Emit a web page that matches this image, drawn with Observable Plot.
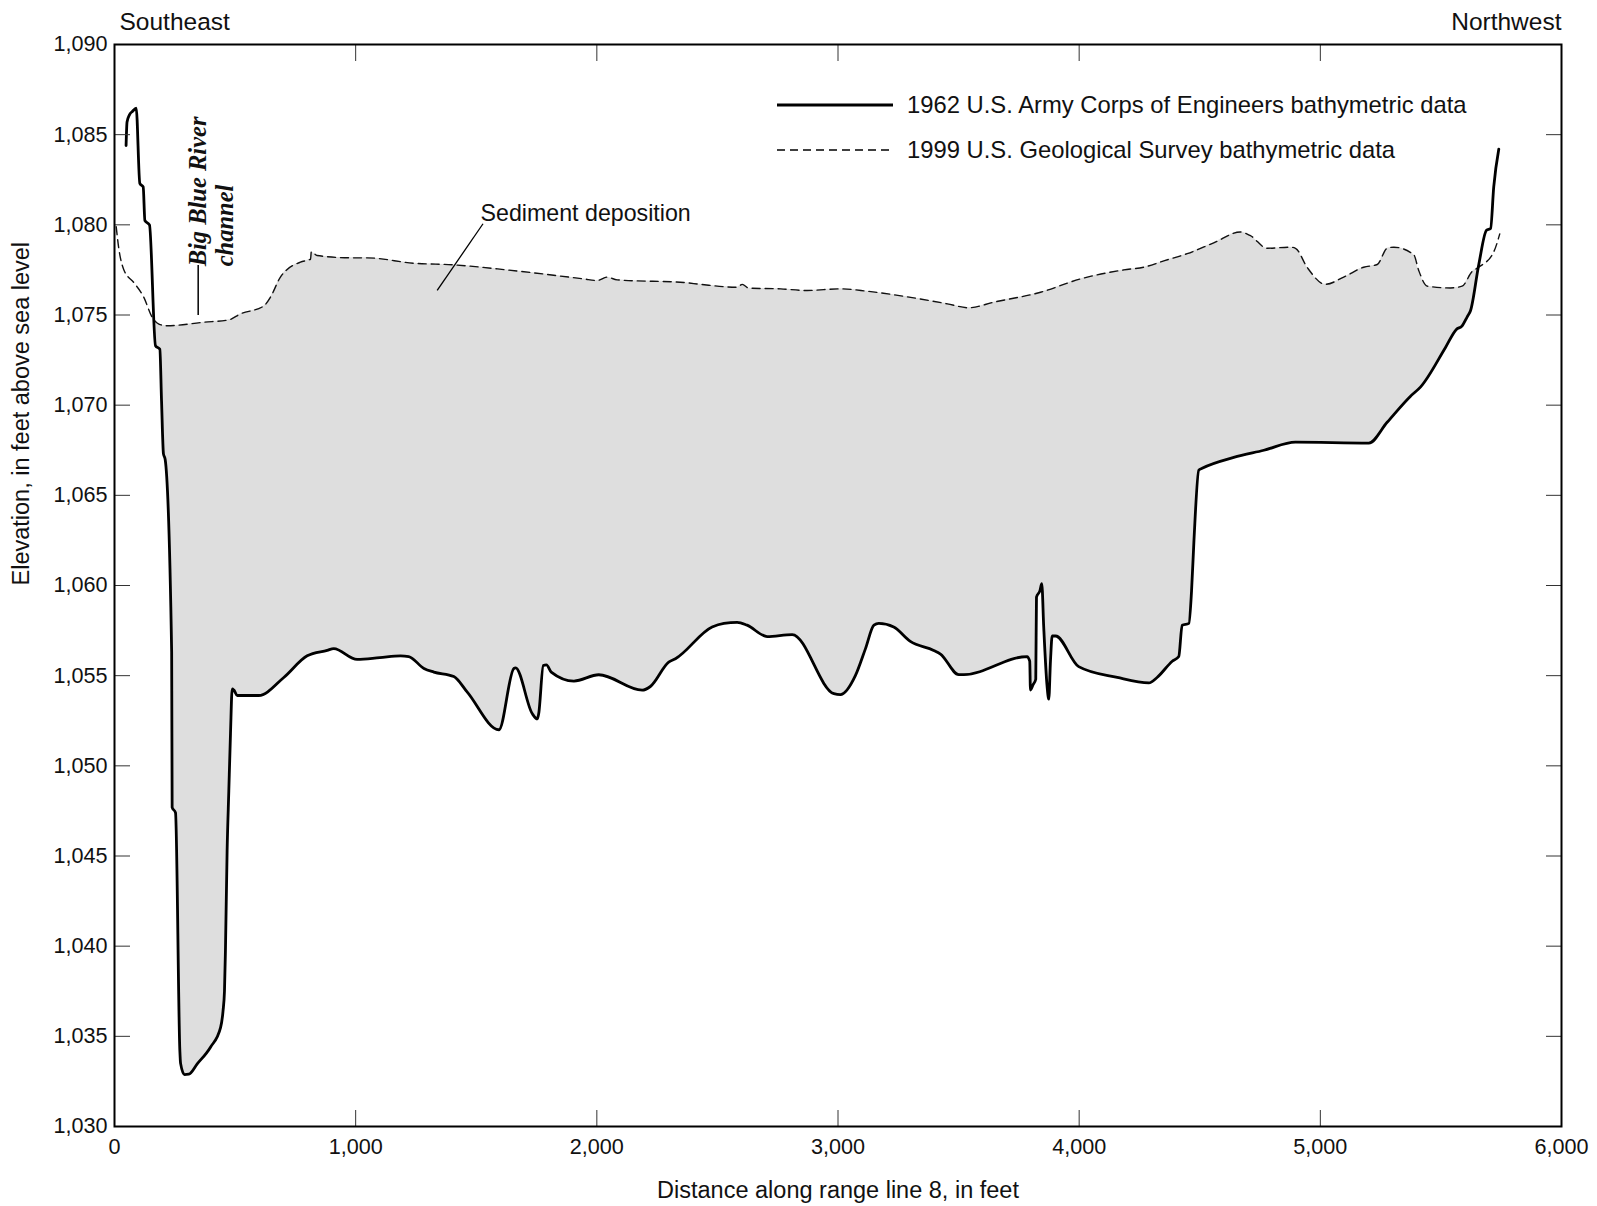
<!DOCTYPE html>
<html>
<head>
<meta charset="utf-8">
<script src="https://cdn.jsdelivr.net/npm/d3@7"></script>
<script src="https://cdn.jsdelivr.net/npm/@observablehq/plot@0.6"></script>
<style>
  html, body { margin: 0; padding: 0; background: #fff; }
  #wrap { position: relative; width: 1597px; height: 1206px; font-family: "Liberation Sans", Arial, sans-serif; }
  #legend { position: absolute; left: 770px; top: 85px; }
</style>
</head>
<body>
<div id="wrap">
  <div id="chart"></div>
  <svg id="legend" width="720" height="90"></svg>
</div>
<script>
// ---- Data ----
// 1962 U.S. Army Corps of Engineers profile (distance ft, elevation ft)
const x1962 = [48, 52, 62, 75, 90, 105, 119, 126, 145, 170, 188, 195, 203, 210, 237, 239, 253, 271, 274, 290, 308, 343, 398, 440, 450, 456, 460, 467, 474, 481, 488, 495, 509, 598, 702, 799, 882, 909, 1006, 1100, 1186, 1220, 1283, 1324, 1407, 1462, 1594, 1656, 1663, 1732, 1753, 1759, 1778, 1791, 1811, 1905, 2008, 2188, 2222, 2298, 2326, 2478, 2527, 2582, 2623, 2706, 2810, 2983, 3010, 3072, 3114, 3149, 3169, 3231, 3300, 3397, 3425, 3501, 3522, 3784, 3795, 3798, 3809, 3820, 3823, 3837, 3845, 3853, 3867, 3874, 3881, 3888, 3902, 3998, 4158, 4289, 4323, 4386, 4413, 4427, 4455, 4466, 4476, 4496, 4510, 4641, 4766, 4897, 5201, 5277, 5374, 5415, 5519, 5564, 5588, 5609, 5623, 5657, 5689, 5706, 5719, 5740];
const y1962 = [1084.4, 1085.7, 1086.1, 1086.3, 1086.47, 1082.3, 1082.1, 1080.24, 1080.0, 1073.3, 1073.1, 1070.26, 1067.3, 1067.0, 1056.3, 1047.7, 1047.4, 1034.2, 1033.5, 1032.88, 1032.9, 1033.47, 1034.4, 1035.5, 1036.4, 1037.5, 1039.76, 1045.3, 1048.6, 1051.8, 1054.27, 1054.2, 1053.9, 1053.9, 1054.9, 1056.1, 1056.4, 1056.5, 1055.9, 1056.0, 1056.1, 1056.06, 1055.4, 1055.2, 1054.95, 1054.1, 1052.0, 1055.4, 1055.43, 1052.9, 1052.6, 1052.9, 1055.56, 1055.6, 1055.2, 1054.7, 1055.05, 1054.2, 1054.4, 1055.75, 1055.94, 1057.7, 1057.9, 1057.96, 1057.8, 1057.17, 1057.28, 1054.0, 1053.95, 1055.0, 1056.5, 1057.8, 1057.9, 1057.7, 1056.9, 1056.4, 1056.2, 1055.06, 1055.06, 1056.06, 1055.8, 1054.2, 1054.5, 1054.8, 1059.35, 1059.7, 1060.1, 1057.7, 1054.4, 1053.7, 1055.8, 1057.2, 1057.2, 1055.5, 1054.9, 1054.6, 1054.9, 1055.8, 1056.06, 1057.8, 1057.9, 1059.7, 1062.5, 1066.4, 1066.5, 1067.1, 1067.5, 1067.95, 1067.9, 1069.05, 1070.5, 1071.0, 1073.2, 1074.2, 1074.4, 1074.9, 1075.25, 1077.8, 1079.7, 1079.8, 1082.1, 1084.2];

// 1999 U.S. Geological Survey profile
const x1999 = [7, 18, 39, 80, 121, 156, 184, 218, 370, 474, 522, 619, 647, 688, 771, 806, 813, 816, 840, 979, 1048, 1241, 1407, 1628, 1946, 2001, 2043, 2084, 2361, 2430, 2582, 2603, 2630, 2762, 2872, 3010, 3121, 3314, 3453, 3542, 3646, 3840, 4005, 4185, 4268, 4351, 4448, 4558, 4669, 4710, 4780, 4876, 4897, 4945, 5021, 5097, 5180, 5236, 5277, 5305, 5387, 5408, 5443, 5540, 5588, 5629, 5657, 5719, 5744];
const y1999 = [1079.9, 1078.67, 1077.5, 1076.8, 1076.0, 1074.88, 1074.5, 1074.4, 1074.6, 1074.73, 1075.06, 1075.5, 1076.0, 1077.1, 1077.93, 1078.06, 1078.1, 1078.5, 1078.3, 1078.17, 1078.17, 1077.87, 1077.78, 1077.5, 1077.0, 1076.91, 1077.1, 1076.95, 1076.8, 1076.7, 1076.54, 1076.7, 1076.49, 1076.45, 1076.36, 1076.45, 1076.32, 1075.95, 1075.62, 1075.4, 1075.71, 1076.26, 1077.0, 1077.5, 1077.65, 1078.0, 1078.4, 1079.0, 1079.6, 1079.4, 1078.7, 1078.76, 1078.7, 1077.65, 1076.7, 1077.1, 1077.65, 1077.8, 1078.7, 1078.76, 1078.35, 1077.47, 1076.6, 1076.5, 1076.6, 1077.4, 1077.65, 1078.5, 1079.5];

// Axis ticks
const xTicks = [0, 1000, 2000, 3000, 4000, 5000, 6000];
const yTicks = [1030, 1035, 1040, 1045, 1050, 1055, 1060, 1065, 1070, 1075, 1080, 1085, 1090];

// Labels
const seriesLabels = ["1962 U.S. Army Corps of Engineers bathymetric data", "1999 U.S. Geological Survey bathymetric data"];
const xTitle = "Distance along range line 8, in feet";
const yTitle = "Elevation, in feet above sea level";
const leftDir = "Southeast";
const rightDir = "Northwest";
const depositionLabel = "Sediment deposition";
const channelLabel = "Big Blue River\nchannel";

// ---- Build tables ----
const s1962 = x1962.map((x, i) => ({x, y: y1962[i]}));
const s1999 = x1999.map((x, i) => ({x, y: y1999[i]}));
// Deposition fill: grey below the 1999 surface, then white below the 1962 surface
// (so grey remains only where 1999 lies above 1962). Grey limited to the span of the 1962 profile.
const x0 = x1962[0], x1 = x1962[x1962.length - 1];
const grey = s1999.filter(d => d.x >= x0 + 100 && d.x <= x1 - 20);

const font = '"Liberation Sans", Arial, sans-serif';
const curve = "monotone-x";
const yMin = 1030;

const chart = Plot.plot({
  width: 1597,
  height: 1206,
  marginLeft: 114,
  marginRight: 36,
  marginTop: 44,
  marginBottom: 80,
  style: {fontFamily: font, fontSize: "21.6px", color: "#111", background: "#fff"},
  x: {domain: [0, 6000]},
  y: {domain: [1030, 1090]},
  marks: [
    Plot.areaY(grey, {x: "x", y1: yMin, y2: "y", fill: "#dedede", curve}),
    Plot.areaY(s1962, {x: "x", y1: yMin, y2: "y", fill: "#fff", curve}),
    Plot.line(s1999, {x: "x", y: "y", stroke: "#111", strokeWidth: 1.4, strokeDasharray: "8,5", curve}),
    Plot.line(s1962, {x: "x", y: "y", stroke: "#000", strokeWidth: 2.8, strokeLinejoin: "round", curve}),
    Plot.axisX({anchor: "bottom", ticks: xTicks, tickFormat: d3.format(","), tickSize: -16, tickPadding: 28, label: null, stroke: "#333"}),
    Plot.axisX({anchor: "top", ticks: xTicks, tickFormat: () => "", tickSize: -16, tickPadding: 0, label: null, stroke: "#333"}),
    Plot.axisY({anchor: "left", ticks: yTicks, tickFormat: d3.format(","), tickSize: -16, tickPadding: 23, label: null, stroke: "#333"}),
    Plot.axisY({anchor: "right", ticks: yTicks, tickFormat: () => "", tickSize: -16, tickPadding: 0, label: null, stroke: "#333"}),
    Plot.frame({stroke: "#000", strokeWidth: 2}),
    // axis titles & direction labels
    Plot.text([xTitle], {text: d => d, frameAnchor: "bottom", dy: 64, lineAnchor: "middle", fontSize: 23.5}),
    Plot.text([yTitle], {text: d => d, frameAnchor: "left", dx: -93, rotate: -90, lineAnchor: "middle", fontSize: 23.5}),
    Plot.text([leftDir], {text: d => d, frameAnchor: "top-left", textAnchor: "start", dx: 5, dy: -22, lineAnchor: "middle", fontSize: 24.5}),
    Plot.text([rightDir], {text: d => d, frameAnchor: "top-right", textAnchor: "end", dx: 0, dy: -22, lineAnchor: "middle", fontSize: 24.5}),
    // annotations
    Plot.text([depositionLabel], {text: d => d, x: 1518, y: 1080.63, textAnchor: "start", lineAnchor: "middle", fontSize: 23.2}),
    Plot.link([depositionLabel], {x1: 1528, y1: 1080.06, x2: 1338, y2: 1076.36, stroke: "#000", strokeWidth: 1.3}),
    Plot.text([channelLabel], {text: d => d, x: 401, y: 1077.7, rotate: -90, textAnchor: "start", lineAnchor: "middle", lineHeight: 1.08, fontSize: 24.5, fontStyle: "italic", fontWeight: "bold", fontFamily: '"Liberation Serif", "DejaVu Serif", serif'}),
    Plot.ruleX([347], {y1: 1074.97, y2: 1077.74, stroke: "#000", strokeWidth: 1.5})
  ]
});
document.getElementById("chart").appendChild(chart);

// ---- Legend (inside plot area, upper right) ----
const leg = d3.select("#legend");
const items = [
  {label: seriesLabels[0], dash: null, w: 2.8},
  {label: seriesLabels[1], dash: "8,5", w: 1.4}
];
items.forEach((it, i) => {
  const cy = 20 + i * 45;
  leg.append("line").attr("x1", 7).attr("x2", 123).attr("y1", cy).attr("y2", cy)
    .attr("stroke", "#000").attr("stroke-width", it.w).attr("stroke-dasharray", it.dash);
  leg.append("text").attr("x", 137).attr("y", cy).attr("dy", "0.35em")
    .attr("font-family", font).attr("font-size", 23.8).attr("fill", "#111").text(it.label);
});
</script>
</body>
</html>
